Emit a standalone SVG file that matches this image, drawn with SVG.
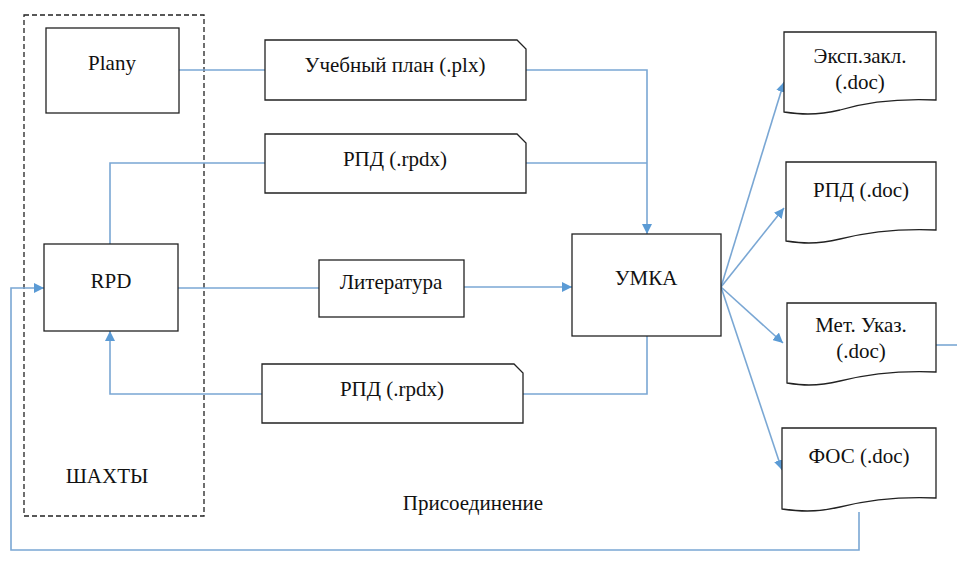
<svg xmlns="http://www.w3.org/2000/svg" width="957" height="563" viewBox="0 0 957 563">
<defs>
<marker id="ah" viewBox="0 0 10 10" refX="10" refY="5" markerWidth="10" markerHeight="10" markerUnits="userSpaceOnUse" orient="auto">
<path d="M0,0 L10,5 L0,10 z" fill="#5b9bd5"/>
</marker>
<style>
.box{fill:#fff;stroke:#222;stroke-width:1.3}
.dash{fill:none;stroke:#222;stroke-width:1.3;stroke-dasharray:5,3}
.ln{fill:none;stroke:#7aa7d4;stroke-width:1.6}
.arr{marker-end:url(#ah)}
.t{font-family:"Liberation Serif","Times New Roman","DejaVu Serif",serif;font-size:21px;fill:#111;text-anchor:middle}
</style>
</defs>
<rect width="957" height="563" fill="#fff"/>
<g id="shahty">
<rect class="dash" x="24" y="15" width="180" height="501"/>
<text class="t" x="107" y="483">ШАХТЫ</text>
</g>
<g id="connectors">
<path class="ln" d="M179,70 H265"/>
<path class="ln arr" d="M526,70 H647 V234"/>
<path class="ln" d="M110,244 V163 H265"/>
<path class="ln" d="M526,163 H647"/>
<path class="ln" d="M178,288 H319"/>
<path class="ln arr" d="M464,287 H572"/>
<path class="ln arr" d="M263,394 H110 V331"/>
<path class="ln" d="M523,394 H647 V336"/>
<path class="ln arr" d="M721,287 L784,82"/>
<path class="ln arr" d="M721,287 L784,208"/>
<path class="ln arr" d="M721,287 L783,343"/>
<path class="ln arr" d="M721,287 L782,470"/>
<path class="ln" d="M936,345 H957"/>
<path class="ln arr" d="M859,512 V550 H11 V288 H44"/>
</g>
<g id="plany">
<rect class="box" x="46" y="28" width="133" height="85"/>
<text class="t" x="112" y="70">Plany</text>
</g>
<g id="rpd">
<rect class="box" x="44" y="244" width="134" height="87"/>
<text class="t" x="111" y="288">RPD</text>
</g>
<g id="uchplan">
<path class="box" d="M265,40 H517 L526,49 V100 H265 Z"/>
<text class="t" x="395" y="72">Учебный план (.plx)</text>
</g>
<g id="rpdx1">
<path class="box" d="M265,134 H517 L526,143 V193 H265 Z"/>
<text class="t" x="395" y="166">РПД (.rpdx)</text>
</g>
<g id="literatura">
<rect class="box" x="319" y="260" width="145" height="57"/>
<text class="t" x="391" y="289">Литература</text>
</g>
<g id="rpdx2">
<path class="box" d="M262,364 H514 L523,373 V423 H262 Z"/>
<text class="t" x="392" y="396">РПД (.rpdx)</text>
</g>
<g id="umka">
<rect class="box" x="572" y="234" width="149" height="102"/>
<text class="t" x="646" y="285">УМКА</text>
</g>
<g id="eksp">
<path class="box" d="M784,32 H936 V100 C890,98 860,104 840,110 C815,116 798,114 784,112 Z"/>
<text class="t" x="860" y="63">Эксп.закл.</text>
<text class="t" x="860" y="89">(.doc)</text>
</g>
<g id="rpddoc">
<path class="box" d="M786,162 H936 V230 C890,228 860,234 840,239 C815,245 800,243 786,241 Z"/>
<text class="t" x="861" y="197">РПД (.doc)</text>
</g>
<g id="met">
<path class="box" d="M787,303 H936 V372 C890,370 860,376 840,381 C815,387 800,385 787,383 Z"/>
<text class="t" x="861" y="332">Мет. Указ.</text>
<text class="t" x="861" y="358">(.doc)</text>
</g>
<g id="fos">
<path class="box" d="M782,428 H936 V498 C890,496 860,502 840,507 C815,513 797,511 782,509 Z"/>
<text class="t" x="859" y="463">ФОС (.doc)</text>
</g>
<text class="t" x="473" y="510">Присоединение</text>
</svg>
